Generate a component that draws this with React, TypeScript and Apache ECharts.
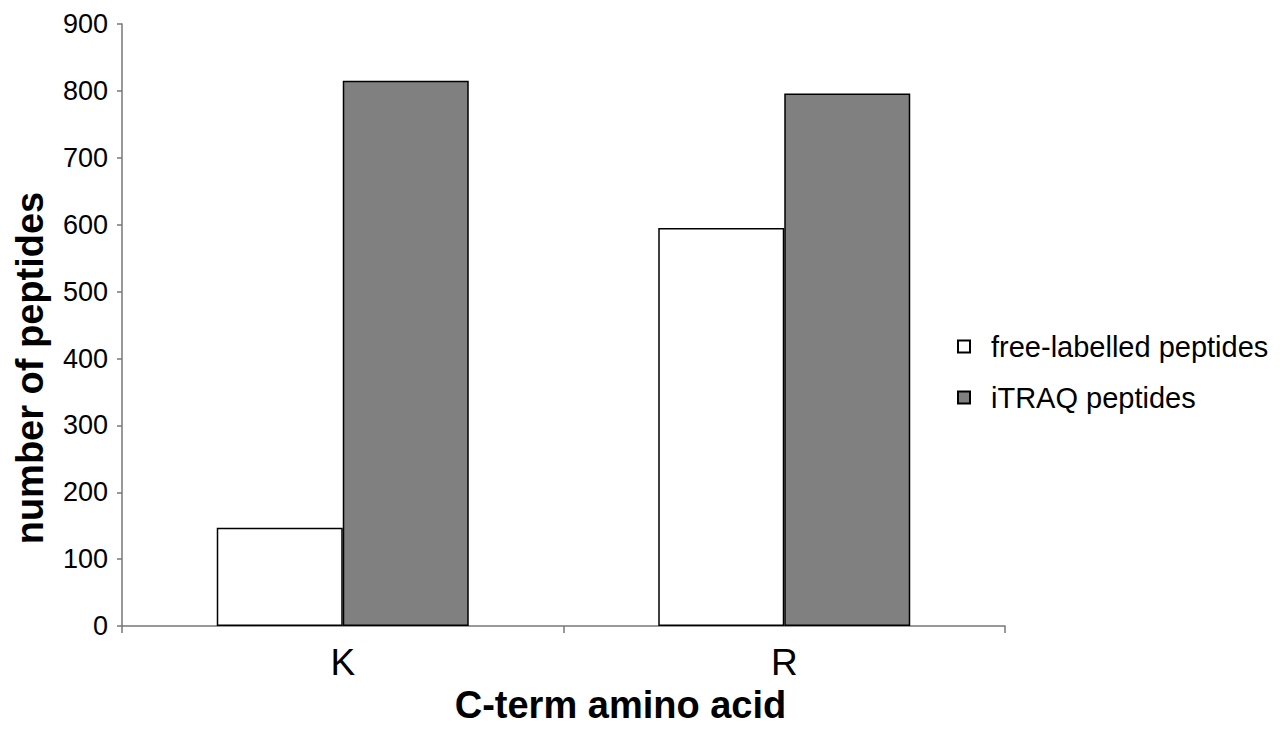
import React, { useEffect, useRef } from "react";
import * as echarts from "echarts";

const categories = ["K", "R"];
const freeLabelled = [147, 595];
const itraq = [815, 796];
const seriesNames = ["free-labelled peptides", "iTRAQ peptides"];

const FONT = "'Liberation Sans', Arial, Helvetica, sans-serif";

export default function App() {
  const ref = useRef<HTMLDivElement>(null);
  useEffect(() => {
    document.body.style.margin = "0";
    if (!ref.current) return;
    const chart = echarts.init(ref.current, undefined, { renderer: "svg" });
    chart.setOption({
      animation: false,
      backgroundColor: "#ffffff",
      textStyle: { fontFamily: FONT, color: "#000" },
      legend: {
        orient: "vertical",
        left: 952,
        top: 327,
        itemWidth: 12,
        itemHeight: 12,
        itemGap: 22,
        icon: "rect",
        textStyle: { fontFamily: FONT, fontSize: 29, color: "#000", padding: [0, 0, 0, 16] },
        data: seriesNames,
      },
      grid: { left: 122, right: 281, top: 24, bottom: 94 },
      xAxis: {
        type: "category",
        data: categories,
        boundaryGap: true,
        name: "C-term amino acid",
        nameLocation: "middle",
        nameGap: 55,
        nameTextStyle: { fontFamily: FONT, fontSize: 38, fontWeight: "bold", color: "#000", padding: [0, 0, 0, 114] },
        axisLine: { lineStyle: { color: "#777", width: 1.5 } },
        axisTick: { show: true, length: 7, alignWithLabel: false, lineStyle: { color: "#777", width: 1.5 } },
        axisLabel: { fontFamily: FONT, fontSize: 37, color: "#000", margin: 18 },
        splitLine: { show: false },
      },
      yAxis: {
        type: "value",
        min: 0,
        max: 900,
        interval: 100,
        name: "number of peptides",
        nameLocation: "middle",
        nameGap: 73,
        nameTextStyle: { fontFamily: FONT, fontSize: 38, fontWeight: "bold", color: "#000", padding: [0, 86, 0, 0] },
        axisLine: { show: true, lineStyle: { color: "#777", width: 1.5 } },
        axisTick: { show: true, length: 5, lineStyle: { color: "#777", width: 1.5 } },
        axisLabel: { fontFamily: FONT, fontSize: 27, color: "#000", margin: 14 },
        splitLine: { show: false },
      },
      series: [
        {
          name: seriesNames[0],
          type: "bar",
          data: freeLabelled,
          barWidth: 126,
          barGap: "0%",
          itemStyle: { color: "#ffffff", borderColor: "#000", borderWidth: 1.5 },
        },
        {
          name: seriesNames[1],
          type: "bar",
          data: itraq,
          barWidth: 126,
          barGap: "0%",
          itemStyle: { color: "#808080", borderColor: "#000", borderWidth: 1.5 },
        },
      ],
    });
    return () => chart.dispose();
  }, []);
  return <div ref={ref} style={{ width: 1286, height: 729 }} />;
}
